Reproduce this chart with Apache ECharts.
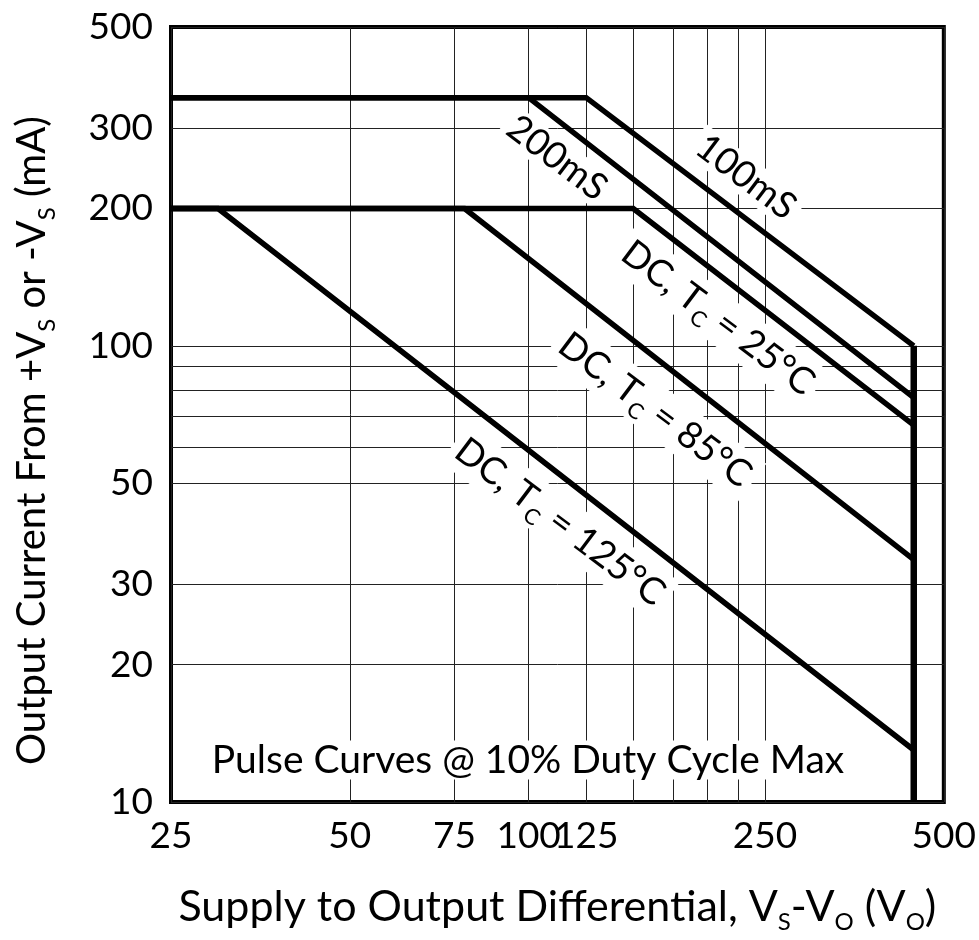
<!DOCTYPE html>
<html>
<head>
<meta charset="utf-8">
<script src="https://cdn.jsdelivr.net/npm/echarts@6/dist/echarts.min.js"></script>
<style>
  html, body { margin: 0; padding: 0; background: #fff; }
  #chart { width: 979px; height: 940px; }
</style>
</head>
<body>
<div id="chart"></div>
<script>
// axis ticks (log scales)
const xTicks = [25, 50, 75, 100, 125, 150, 175, 200, 225, 250, 500]
const xLabels = [25, 50, 75, 100, 125, 250, 500]
const yTicks = [10, 20, 30, 50, 60, 70, 80, 90, 100, 200, 300, 500]
const yLabels = [10, 20, 30, 50, 100, 200, 300, 500]

// safe operating curves: [V, mA]
const curve100ms = [[25, 350], [125, 350], [445, 100]]
const curve200ms = [[25, 350], [100, 350], [445, 77]]
const curveDc25 = [[25, 200], [150, 200], [445, 67]]
const curveDc85 = [[25, 200], [78, 200], [445, 34]]
const curveDc125 = [[25, 200], [30, 200], [445, 13]]
const limitLine = [[445, 100], [445, 10]]

const FONT = 'Lato'
const chart = echarts.init(document.getElementById('chart'))

// subscript style for rich text
function subRich (size, drop) {
  return { sub: { fontSize: size, fontFamily: FONT, padding: [drop, 0, 0, 0], color: '#000', fill: '#000' } }
}

function curve (data) {
  return {
    type: 'line',
    data: data,
    showSymbol: false,
    silent: true,
    z: 3,
    lineStyle: { color: '#000', width: 5.5, join: 'miter', cap: 'butt' }
  }
}

// rotated label along the curves
const ANGLE = -37 * Math.PI / 180
function label (text, x, y, rot, size) {
  return {
    type: 'text',
    x: x,
    y: y,
    rotation: rot,
    z: 1,
    style: {
      text: text,
      fontSize: size || 37,
      fontFamily: FONT,
      fill: '#000',
      align: 'center',
      verticalAlign: 'middle',
      backgroundColor: '#fff',
      padding: [0, 6],
      rich: subRich(22, 26)
    }
  }
}

const option = {
  animation: false,
  grid: {
    left: 171,
    right: 30,
    top: 27,
    bottom: 138,
    show: true,
    borderColor: '#000',
    borderWidth: 4,
    backgroundColor: 'transparent'
  },
  xAxis: {
    type: 'log',
    logBase: 10,
    min: 25,
    max: 500,
    name: 'Supply to Output Differential, V{sub|S}-V{sub|O} (V{sub|O})',
    nameLocation: 'middle',
    nameGap: 78,
    nameTextStyle: { fontSize: 43, fontFamily: FONT, color: '#000', rich: subRich(24, 30) },
    axisLine: { show: false },
    axisTick: { show: false, customValues: xTicks },
    axisLabel: {
      customValues: xLabels,
      fontSize: 37,
      fontFamily: FONT,
      color: '#000',
      margin: 16
    },
    splitLine: { show: true, lineStyle: { color: '#222', width: 1 } }
  },
  yAxis: {
    type: 'log',
    logBase: 10,
    min: 10,
    max: 500,
    name: 'Output Current From +V{sub|S} or -V{sub|S} (mA)',
    nameLocation: 'middle',
    nameRotate: 90,
    nameGap: 112,
    nameTextStyle: {
      fontSize: 40,
      fontFamily: FONT,
      color: '#000',
      padding: [0, 52, 0, 0],
      rich: subRich(24, 30)
    },
    axisLine: { show: false },
    axisTick: { show: false, customValues: yTicks },
    axisLabel: {
      customValues: yLabels,
      fontSize: 37,
      fontFamily: FONT,
      color: '#000',
      margin: 18
    },
    splitLine: { show: true, lineStyle: { color: '#222', width: 1 } }
  },
  graphic: [
    label('200mS', 557, 158, ANGLE),
    label('100mS', 746, 177, ANGLE),
    label('DC, T{sub|C} = 25°C', 718, 318, ANGLE),
    label('DC, T{sub|C} = 85°C', 655, 410, ANGLE),
    label('DC, T{sub|C} = 125°C', 560, 522, ANGLE),
    label('Pulse Curves @ 10% Duty Cycle Max', 528, 760, 0, 39)
  ],
  series: [
    curve(curve100ms),
    curve(curve200ms),
    curve(curveDc25),
    curve(curveDc85),
    curve(curveDc125),
    Object.assign(curve(limitLine), { lineStyle: { color: '#000', width: 6.5, cap: 'butt' } })
  ]
}

chart.setOption(option)
</script>
</body>
</html>
